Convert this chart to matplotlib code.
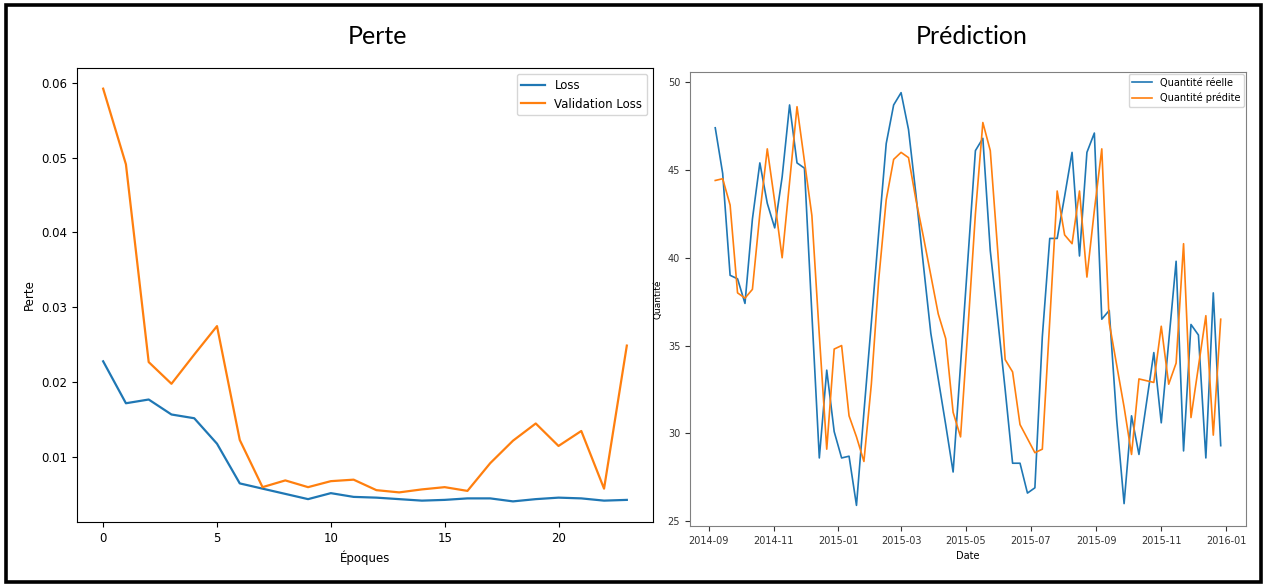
import pandas as pd
import matplotlib
matplotlib.use("Agg")
import matplotlib.pyplot as plt
import matplotlib.dates as mdates
from matplotlib.patches import Rectangle

# -------------------------------
# 1. Training history (loss per epoch)
# -------------------------------
epochs = list(range(24))
loss = [0.0228, 0.0172, 0.0177, 0.0157, 0.0152, 0.0118, 0.0065, 0.0058,
        0.0051, 0.0044, 0.0052, 0.0047, 0.0046, 0.0044, 0.0042, 0.0043,
        0.0045, 0.0045, 0.0041, 0.0044, 0.0046, 0.0045, 0.0042, 0.0043]
val_loss = [0.0592, 0.0491, 0.0227, 0.0198, 0.0237, 0.0275, 0.0123, 0.0060,
            0.0069, 0.0060, 0.0068, 0.0070, 0.0056, 0.0053, 0.0057, 0.0060,
            0.0055, 0.0092, 0.0122, 0.0145, 0.0115, 0.0135, 0.0058, 0.0249]

# -------------------------------
# 2. Weekly quantities: real vs predicted
# -------------------------------
dates = pd.date_range("2014-09-07", periods=69, freq="7D")
real_qty = [47.4, 44.8, 39.0, 38.8, 37.4, 42.2, 45.4, 43.1, 41.7, 44.6,
            48.7, 45.4, 45.1, 36.8, 28.6, 33.6, 30.1, 28.6, 28.7, 25.9,
            31.2, 36.3, 41.5, 46.5, 48.7, 49.4, 47.3, 43.6, 39.6, 35.7,
            33.1, 30.5, 27.8, 33.9, 40.0, 46.1, 46.8, 40.4, 36.5, 32.5,
            28.3, 28.3, 26.6, 26.9, 35.5, 41.1, 41.1, 43.5, 46.0, 40.1,
            46.0, 47.1, 36.5, 37.0, 30.8, 26.0, 31.0, 28.8, 31.7, 34.6,
            30.6, 35.2, 39.8, 29.0, 36.2, 35.6, 28.6, 38.0, 29.3]
pred_qty = [44.4, 44.5, 43.0, 38.0, 37.7, 38.2, 42.5, 46.2, 43.2, 40.0,
            44.3, 48.6, 45.5, 42.4, 35.6, 29.1, 34.8, 35.0, 31.0, 29.8,
            28.4, 32.8, 38.8, 43.3, 45.6, 46.0, 45.7, 43.3, 41.2, 39.0,
            36.8, 35.4, 31.2, 29.8, 36.0, 42.5, 47.7, 46.1, 40.4, 34.2,
            33.5, 30.5, 29.7, 28.9, 29.1, 36.4, 43.8, 41.3, 40.8, 43.8,
            38.9, 42.7, 46.2, 36.3, 33.9, 31.5, 28.8, 33.1, 33.0, 32.9,
            36.1, 32.8, 34.0, 40.8, 30.9, 33.8, 36.7, 29.9, 36.5]

# -------------------------------
# 3. Figure
# -------------------------------
fig = plt.figure(figsize=(12.66, 5.87), dpi=100)

# Loss panel
ax1 = fig.add_axes([0.0608, 0.1107, 0.455, 0.7734])
ax1.plot(epochs, loss, color="#1f77b4", lw=1.6, label="Loss")
ax1.plot(epochs, val_loss, color="#ff7f0e", lw=1.6, label="Validation Loss")
ax1.set_xlabel("Époques", fontsize=8.5)
ax1.set_ylabel("Perte", fontsize=8.5)
ax1.tick_params(labelsize=8.5)
ax1.legend(loc="upper right", fontsize=8.5)

# Prediction panel
ax2 = fig.add_axes([0.545, 0.1039, 0.4392, 0.7734])
ax2.plot(dates, real_qty, color="#1f77b4", lw=1.2, label="Quantité réelle")
ax2.plot(dates, pred_qty, color="#ff7f0e", lw=1.2, label="Quantité prédite")
ax2.xaxis.set_major_locator(mdates.MonthLocator(bymonth=[1, 3, 5, 7, 9, 11]))
ax2.xaxis.set_major_formatter(mdates.DateFormatter("%Y-%m"))
ax2.set_xlabel("Date", fontsize=7)
ax2.set_ylabel("Quantité", fontsize=6.5)
ax2.tick_params(labelsize=7, colors="#333333")
for s in ax2.spines.values():
    s.set_color("#808080")
ax2.legend(loc="upper right", fontsize=7, borderaxespad=0.2)

# Panel titles
fig.text(378 / 1266, 1 - 36 / 587, "Perte", ha="center", va="center",
         fontsize=18, family="Lato")
fig.text(972 / 1266, 1 - 36 / 587, "Prédiction", ha="center", va="center",
         fontsize=18, family="Lato")

# Outer frame
fig.add_artist(Rectangle((6 / 1266, 5 / 587), 1255 / 1266, 577 / 587,
                         transform=fig.transFigure, fill=False,
                         edgecolor="black", lw=2.6))

plt.savefig("out.png", dpi=100)
